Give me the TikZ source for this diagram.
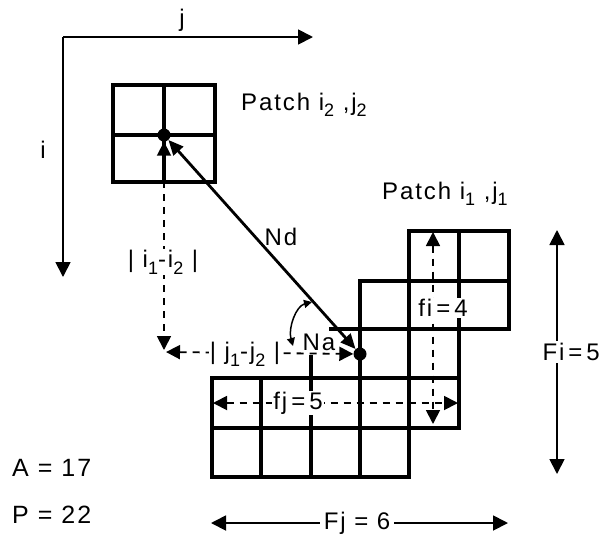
\documentclass[tikz,border=0pt]{standalone}
\usepackage{fontspec}
\setmainfont[LetterSpace=8]{Liberation Sans}
\usetikzlibrary{arrows.meta}
\newcommand\sbs[1]{\raisebox{-0.55ex}{\fontsize{18}{18}\selectfont #1}}
\begin{document}
\begin{tikzpicture}[x=1pt,y=-1pt,
  lbl/.style={font=\fontsize{24}{26}\selectfont, inner sep=1pt},
  biglbl/.style={font=\fontsize{25}{27}\selectfont, inner sep=0pt},
  gridline/.style={line width=3.3pt, line join=miter},
  axis/.style={line width=1.8pt, -{Triangle[length=15pt,width=15pt]}},
  dimline/.style={line width=1.8pt, {Triangle[length=15pt,width=15pt]}-{Triangle[length=15pt,width=15pt]}},
  dashline/.style={line width=1.8pt, dash pattern=on 7pt off 6pt},
  dtip/.style={{Triangle[length=14pt,width=14pt]}-{Triangle[length=14pt,width=14pt]}},
  ndline/.style={line width=2.8pt, {Triangle[length=15pt,width=13pt]}-{Triangle[length=15pt,width=13pt]}},
  arcline/.style={line width=1.5pt, {Triangle[length=8pt,width=8pt]}-{Triangle[length=8pt,width=8pt]}},
  dot/.style={circle, fill=black, minimum size=13pt, inner sep=0pt},
  whitelbl/.style={lbl, fill=white}
]
\useasboundingbox (0,0) rectangle (602,539);

% axes
\coordinate (origin) at (63,37);
\coordinate (jend) at (313,37);
\coordinate (iend) at (63,277);
\draw[axis] (origin) -- (jend);
\draw[axis] (origin) -- (iend);
\node[lbl] (jlbl) at (182,20) {j};
\node[lbl] (ilbl) at (43,150) {i};

% patch 2 grid
\foreach \a/\b in {113/164,164/215}
  \foreach \c/\d in {85/135,135/182}
    \draw[gridline] (\a,\c) rectangle (\b,\d);

% patch 1 grid
\foreach \a/\b in {409/459,459/509} \draw[gridline] (\a,231) rectangle (\b,281);
\foreach \a/\b in {360/409,409/459,459/509} \draw[gridline] (\a,281) rectangle (\b,329);
\foreach \a/\b in {360/409,409/459} \draw[gridline] (\a,329) rectangle (\b,378);
\foreach \a/\b in {212/261,261/311,311/360,360/409,409/459} \draw[gridline] (\a,378) rectangle (\b,428);
\foreach \a/\b in {212/261,261/311,311/360,360/409} \draw[gridline] (\a,428) rectangle (\b,477);
\draw[gridline] (329,329) -- (360,329);
\draw[gridline] (311,355) -- (311,378);

% dots
\node[dot] (p2) at (164,135) {};
\node[dot] (p1) at (360,354) {};

% |i1-i2| and |j1-j2|
\coordinate (cornerV) at (164,350);
\coordinate (cornerH) at (166,352);
\draw[dashline, dtip] (p2) -- (cornerV);
\draw[dashline, dtip] (cornerH) -- (p1);
\node[whitelbl] (di) at (163,262) {|\ i\sbs{1}-i\sbs{2}\ |};
\node[whitelbl] (dj) at (245,354) {|\ j\sbs{1}-j\sbs{2}\ |};

% fi and fj
\coordinate (fiT) at (433,232);
\coordinate (fiB) at (433,424);
\draw[dashline, dtip] (fiT) -- (fiB);
\node[whitelbl] (filbl) at (443,308) {fi\,=\,4};
\coordinate (fjL) at (213,403);
\coordinate (fjR) at (458,403);
\draw[dashline, dtip] (fjL) -- (fjR);
\node[whitelbl] (fjlbl) at (298,403) {fj\,=\,5};

% Nd
\draw[ndline] (p1) -- (p2);
\node[lbl] (ndlbl) at (281,237) {Nd};

% Na
\coordinate (naA) at (312,302);
\coordinate (naB) at (293,346);
\draw[arcline] (naA) .. controls (296,306) and (288,328) .. (naB);
\node[lbl] (nalbl) at (319,342) {Na};

% patch labels
\node[lbl, anchor=base west, inner sep=0pt] (patch2) at (241,110) {Patch i\sbs{2} ,j\sbs{2}};
\node[lbl, anchor=base west, inner sep=0pt] (patch1) at (382,199) {Patch i\sbs{1} ,j\sbs{1}};

% Fi and Fj
\coordinate (FiT) at (557,230);
\coordinate (FiB) at (557,474);
\draw[dimline] (FiT) -- (FiB);
\node[whitelbl, inner sep=2pt, anchor=east] (Filbl) at (602,352) {Fi\,=\,5};
\coordinate (FjL) at (211,523);
\coordinate (FjR) at (508,523);
\draw[dimline] (FjL) -- (FjR);
\node[whitelbl, inner sep=4pt] (Fjlbl) at (357,523) {Fj = 6};

% A, P
\node[biglbl, anchor=base west] (Albl) at (12,476) {A = 17};
\node[biglbl, anchor=base west] (Plbl) at (12,523) {P = 22};
\end{tikzpicture}
\end{document}
